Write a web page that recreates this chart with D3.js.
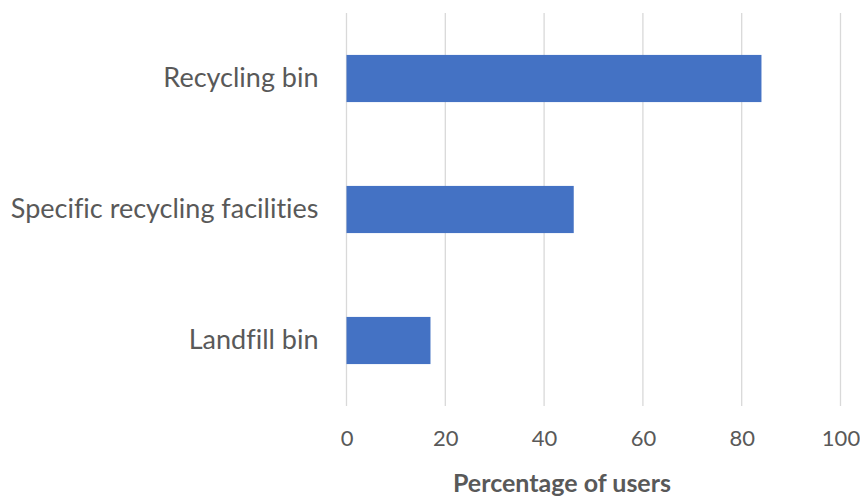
<!DOCTYPE html>
<html>
<head>
<meta charset="utf-8">
<script src="https://cdn.jsdelivr.net/npm/d3@7"></script>
<style>
  html, body { margin: 0; padding: 0; background: #fff; }
  svg { display: block; }
  text { font-family: Lato, "Open Sans", sans-serif; fill: #595959; font-variant-ligatures: none; }
</style>
</head>
<body>
<svg id="chart" width="860" height="500"></svg>
<script>
// Disposal methods and share of users (%)
const categories = ["Recycling bin", "Specific recycling facilities", "Landfill bin"];
const values = [84, 46, 17];
const xTicks = [0, 20, 40, 60, 80, 100];
const xTitle = "Percentage of users";

const svg = d3.select("#chart");
const margin = { top: 13, right: 19.5, bottom: 94, left: 346.5 };
const W = 860, H = 500;

const x = d3.scaleLinear().domain([0, 100]).range([margin.left, W - margin.right]);
const y = d3.scaleBand().domain(categories).range([margin.top, H - margin.bottom])
  .paddingInner(0.64).paddingOuter(0.32);

// vertical gridlines
svg.append("g").selectAll("line").data(xTicks).join("line")
  .attr("x1", d => x(d)).attr("x2", d => x(d))
  .attr("y1", margin.top).attr("y2", H - margin.bottom)
  .attr("stroke", "#d9d9d9").attr("stroke-width", 1.3);

// bars
svg.append("g").selectAll("rect").data(categories).join("rect")
  .attr("x", x(0))
  .attr("y", d => y(d))
  .attr("width", (d, i) => x(values[i]) - x(0))
  .attr("height", y.bandwidth())
  .attr("fill", "#4472C4");

// x tick labels
const xAxis = d3.axisBottom(x).tickValues(xTicks).tickSize(0).tickPadding(0);
const gx = svg.append("g").attr("transform", `translate(0,${H - margin.bottom + 24})`).call(xAxis);
gx.select(".domain").remove();
gx.selectAll("text").attr("font-size", 22).attr("fill", "#595959")
  .style("font-family", "Lato, 'Open Sans', sans-serif");

// category labels
const yAxis = d3.axisLeft(y).tickSize(0).tickPadding(28);
const gy = svg.append("g").attr("transform", `translate(${margin.left},0)`).call(yAxis);
gy.select(".domain").remove();
gy.selectAll("text").attr("font-size", 27).attr("fill", "#595959")
  .style("font-family", "Lato, 'Open Sans', sans-serif");

// axis title
svg.append("text")
  .attr("x", 562).attr("y", 492)
  .attr("text-anchor", "middle")
  .attr("font-size", 25).attr("font-weight", "bold")
  .text(xTitle);
</script>
</body>
</html>
